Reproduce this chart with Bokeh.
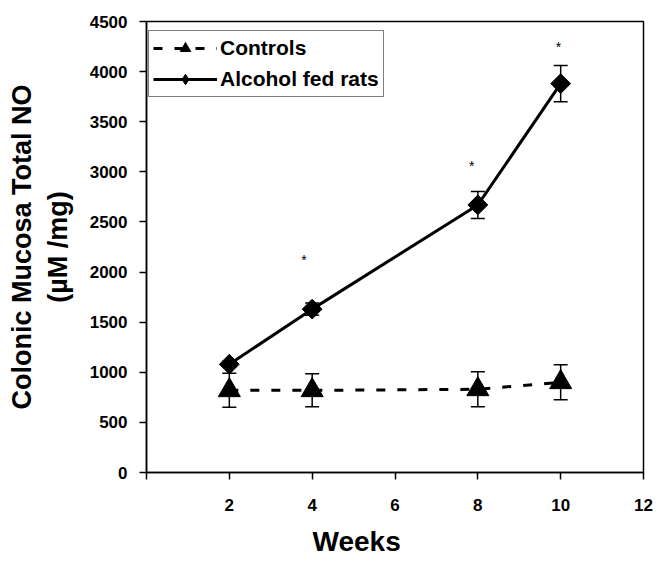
from bokeh.plotting import figure
from bokeh.models import (Range1d, FixedTicker, Whisker, ColumnDataSource, Legend, LegendItem, TeeHead, Title)
from bokeh.core.properties import value
from bokeh.embed import file_html
from bokeh.resources import INLINE
import numpy as np

weeks = [2, 4, 8, 10]
controls = [820, 820, 830, 900]
controls_err = [170, 165, 175, 175]
alcohol = [1080, 1630, 2670, 3880]
alcohol_err = [30, 60, 135, 180]
star_x = [3.8, 7.85, 9.95]
star_y = [2120, 3060, 4250]
x_ticks = [0, 2, 4, 6, 8, 10, 12]
y_ticks = [0, 500, 1000, 1500, 2000, 2500, 3000, 3500, 4000, 4500]
y_title = ["Colonic Mucosa Total NO", "(\u00b5M /mg)"]
x_title = "Weeks"

FONT = "Liberation Sans"
W, H = 656, 570
FL, FT, FR, FB = 146, 21, 643, 472

p = figure(width=W, height=H, output_backend="svg", toolbar_location=None,
           x_range=Range1d(0, 12), y_range=Range1d(0, 4500),
           min_border_left=FL, min_border_right=W - FR, min_border_top=FT, min_border_bottom=H - FB)
p.outline_line_color = "black"
p.outline_line_width = 1.5
p.grid.visible = False
p.background_fill_color = "white"

for ax in (p.xaxis[0], p.yaxis[0]):
    ax.axis_line_width = 1.5
    ax.major_tick_line_width = 1.5
    ax.minor_tick_line_color = None
    ax.major_tick_in = 0
    ax.major_tick_out = 7
    ax.major_label_text_font = FONT
    ax.major_label_text_font_style = "bold"
    ax.major_label_text_font_size = "17px"
    ax.major_label_text_color = "black"

p.xaxis.ticker = FixedTicker(ticks=x_ticks)
p.xaxis.major_label_overrides = {0: ""}
p.xaxis.major_label_standoff = 19
p.yaxis.ticker = FixedTicker(ticks=y_ticks)
p.yaxis.major_label_standoff = 12

# second title line is the axis label proper (centred on the frame)
p.yaxis.axis_label = y_title[1]
p.yaxis.axis_label_standoff = 14
p.yaxis.axis_label_text_font = FONT
p.yaxis.axis_label_text_font_style = "bold"
p.yaxis.axis_label_text_font_size = "27px"
p.yaxis.axis_label_text_color = "black"
p.yaxis.axis_label_text_line_height = 1.0

# first title line, outermost, also centred
p.add_layout(Title(text=y_title[0], align="center", standoff=6, text_font=FONT,
                   text_font_style="bold", text_font_size="27px", text_color="black",
                   text_line_height=1.0), "left")
# x title is off-centre in the reference
p.add_layout(Title(text=x_title, align="left", offset=166, standoff=20, text_font=FONT,
                   text_font_style="bold", text_font_size="28px", text_color="black",
                   text_line_height=1.0), "below")

src_c = ColumnDataSource(dict(x=weeks, y=controls,
                              lo=[v - e for v, e in zip(controls, controls_err)],
                              hi=[v + e for v, e in zip(controls, controls_err)]))
src_a = ColumnDataSource(dict(x=weeks, y=alcohol,
                              lo=[v - e for v, e in zip(alcohol, alcohol_err)],
                              hi=[v + e for v, e in zip(alcohol, alcohol_err)]))

for src in (src_c, src_a):
    w = Whisker(base="x", upper="hi", lower="lo", source=src, line_width=1.5, line_color="black",
                upper_head=TeeHead(size=14, line_width=1.5, line_color="black"),
                lower_head=TeeHead(size=14, line_width=1.5, line_color="black"))
    p.add_layout(w)

lc = p.line("x", "y", source=src_c, line_color="black", line_width=3, line_dash="9 12")
sc = p.scatter("x", "y", source=src_c, marker="triangle", size=22, fill_color="black", line_color="black")
la = p.line("x", "y", source=src_a, line_color="black", line_width=3)
sa = p.scatter("x", "y", source=src_a, marker="square", angle=np.pi / 4, size=14,
               fill_color="black", line_color="black")
# legend-only keys (nothing drawn in the plot)
la_key = p.scatter(x=[np.nan], y=[np.nan], marker="diamond", size=18,
                   fill_color="black", line_color="black")
sc_key = p.scatter(x=[np.nan], y=[np.nan], marker="triangle", size=13,
                   fill_color="black", line_color="black")

p.text(x=star_x, y=star_y, text=["*"] * 3, text_font=value(FONT), text_font_size="14px",
       text_align="center", text_baseline="middle", text_color="black")

legend = Legend(items=[LegendItem(label="Controls", renderers=[lc, sc_key]),
                       LegendItem(label="Alcohol fed rats", renderers=[la, la_key])],
                location="top_left", margin=0)
legend.location = (2, (FB - FT) - 13 - 63)
legend.border_line_color = "black"
legend.border_line_width = 1.5
legend.label_text_font = FONT
legend.label_text_font_style = "bold"
legend.label_text_font_size = "21px"
legend.label_text_color = "black"
legend.glyph_width = 64
legend.glyph_height = 26
legend.spacing = 5
legend.padding = 4
legend.label_standoff = 3
legend.background_fill_alpha = 1
p.add_layout(legend)

open("out.html", "w").write(file_html(p, INLINE))
